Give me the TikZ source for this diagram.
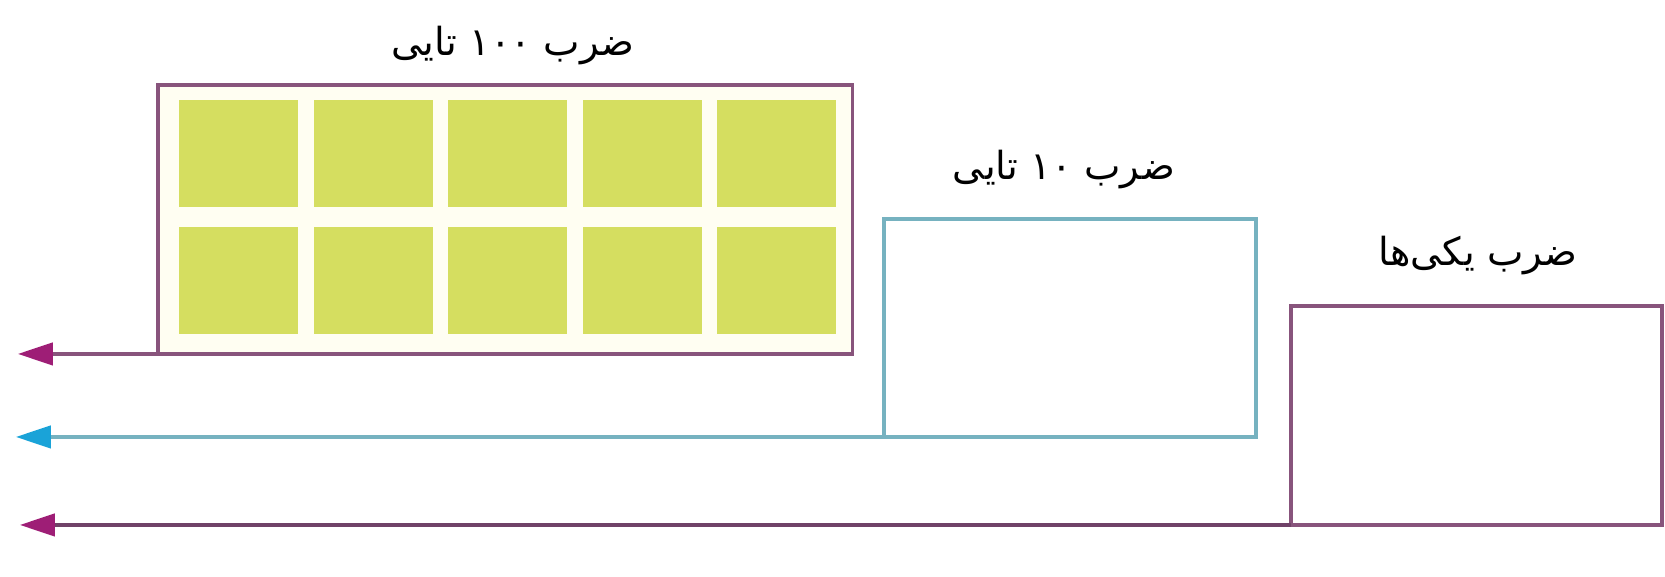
\documentclass[tikz,border=0pt]{standalone}
\usepackage{fontspec}
\usetikzlibrary{arrows.meta}
\TeXXeTstate=1
\newfontfamily\arabicfont[Script=Arabic]{DejaVu Sans}

\definecolor{boxpurple}{RGB}{136,84,124}
\definecolor{arrowmag}{RGB}{158,30,118}
\definecolor{boxcyan}{RGB}{118,178,192}
\definecolor{arrowcyan}{RGB}{26,163,216}
\definecolor{linepurple}{RGB}{112,66,104}
\definecolor{sqgreen}{RGB}{213,222,96}
\definecolor{cream}{RGB}{255,254,242}

\begin{document}
\begin{tikzpicture}[x=0.02cm, y=-0.02cm,
    frame/.style={draw=#1, line width=1.8pt, inner sep=0pt, outer sep=0pt, anchor=north west},
    title/.style={font=\arabicfont\fontsize{22}{26}\selectfont, inner sep=0pt},
    arrowline/.style={line width=1.8pt, -{Triangle[length=0.7cm, width=0.45cm, color=#1]}}]
    \useasboundingbox (0,0) rectangle (1665,577);

    % Boxes
    \node[frame=boxpurple, fill=cream, minimum width=13.9cm, minimum height=5.38cm] (hundreds) at (158,85) {};
    \node[frame=boxcyan, minimum width=7.44cm, minimum height=4.36cm] (tens) at (884,219) {};
    \node[frame=boxpurple, minimum width=7.42cm, minimum height=4.38cm] (ones) at (1291,306) {};

    % Squares of the hundreds box
    \foreach \c in {0,...,4}
        \foreach \r in {0,1}
            \fill[sqgreen] ({179+134.5*\c},{100+127*\r}) rectangle +(119,107);

    % Titles
    \node[title] (hundredsTitle) at (513,46) {\beginR ضرب \beginL۱۰۰\endL{} تایی\endR};
    \node[title] (tensTitle) at (1064,170) {\beginR ضرب \beginL۱۰\endL{} تایی\endR};
    \node[title] (onesTitle) at (1478,256) {\beginR ضرب یکی‌ها\endR};

    % Arrows
    \coordinate (hundredsTip) at (18,0);
    \coordinate (tensTip) at (16,0);
    \coordinate (onesTip) at (20,0);
    \draw[arrowline=arrowmag, boxpurple] ([xshift=2.7cm]hundreds.south west) -- (hundredsTip |- hundreds.south west);
    \draw[arrowline=arrowcyan, boxcyan] ([xshift=0.4cm]tens.south west) -- (tensTip |- tens.south west);
    \draw[arrowline=arrowmag, linepurple] (ones.south west) -- (onesTip |- ones.south west);
\end{tikzpicture}
\end{document}
